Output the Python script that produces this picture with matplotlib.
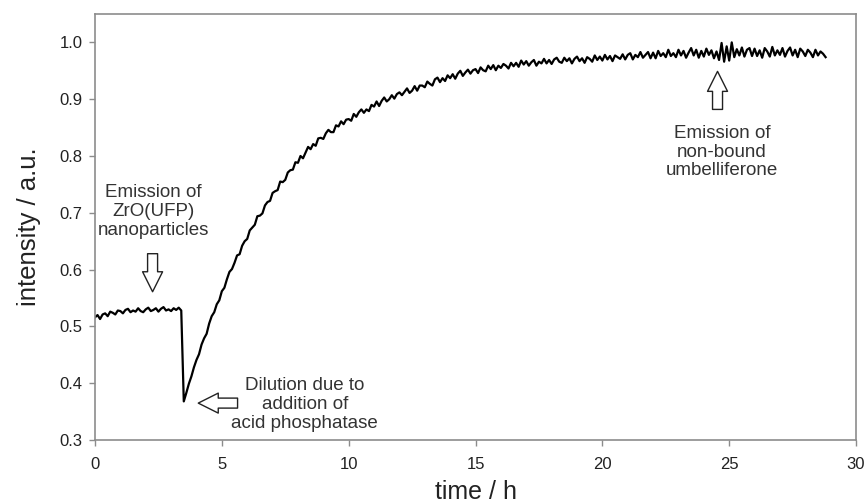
"""Emission intensity of ZrO(UFP) nanoparticles over time after phosphatase addition."""

import numpy as np
import matplotlib
matplotlib.use("Agg")
import matplotlib.pyplot as plt

# sampling interval of the recorded trace (hours)
sample_step_h = 0.1

# intensity, one row per hour (t = h.0 ... h.9)
intensity = [
    0.516, 0.520, 0.513, 0.521, 0.523, 0.518, 0.526, 0.524, 0.521, 0.528,
    0.527, 0.523, 0.529, 0.531, 0.525, 0.528, 0.526, 0.532, 0.527, 0.525,
    0.530, 0.533, 0.527, 0.529, 0.532, 0.526, 0.531, 0.534, 0.528, 0.530,
    0.527, 0.532, 0.529, 0.533, 0.528, 0.368, 0.383, 0.399, 0.412, 0.428,
    0.441, 0.451, 0.468, 0.479, 0.487, 0.505, 0.518, 0.525, 0.539, 0.546,
    0.562, 0.568, 0.583, 0.596, 0.601, 0.612, 0.625, 0.627, 0.642, 0.650,
    0.654, 0.669, 0.674, 0.679, 0.694, 0.695, 0.699, 0.713, 0.719, 0.721,
    0.735, 0.738, 0.740, 0.755, 0.754, 0.758, 0.771, 0.775, 0.776, 0.789,
    0.788, 0.800, 0.796, 0.806, 0.816, 0.812, 0.821, 0.818, 0.831, 0.832,
    0.830, 0.840, 0.846, 0.842, 0.842, 0.854, 0.852, 0.861, 0.856, 0.864,
    0.865, 0.862, 0.874, 0.869, 0.877, 0.882, 0.876, 0.882, 0.879, 0.890,
    0.887, 0.896, 0.888, 0.897, 0.903, 0.896, 0.900, 0.907, 0.901, 0.909,
    0.912, 0.907, 0.913, 0.919, 0.911, 0.915, 0.923, 0.915, 0.924, 0.924,
    0.921, 0.931, 0.927, 0.924, 0.935, 0.938, 0.930, 0.937, 0.932, 0.942,
    0.937, 0.944, 0.936, 0.945, 0.950, 0.941, 0.947, 0.952, 0.945, 0.951,
    0.953, 0.946, 0.956, 0.951, 0.949, 0.959, 0.953, 0.960, 0.951, 0.959,
    0.955, 0.962, 0.959, 0.954, 0.964, 0.958, 0.964, 0.957, 0.968, 0.961,
    0.967, 0.959, 0.965, 0.969, 0.959, 0.966, 0.963, 0.971, 0.963, 0.969,
    0.962, 0.970, 0.973, 0.966, 0.964, 0.973, 0.967, 0.972, 0.963, 0.971,
    0.975, 0.967, 0.972, 0.964, 0.974, 0.971, 0.966, 0.977, 0.969, 0.975,
    0.968, 0.978, 0.970, 0.976, 0.967, 0.977, 0.974, 0.971, 0.979, 0.970,
    0.978, 0.981, 0.970, 0.978, 0.974, 0.983, 0.973, 0.978, 0.983, 0.972,
    0.982, 0.972, 0.985, 0.976, 0.981, 0.974, 0.987, 0.976, 0.981, 0.974,
    0.987, 0.977, 0.985, 0.973, 0.982, 0.990, 0.977, 0.987, 0.973, 0.985,
    0.975, 0.989, 0.978, 0.986, 0.972, 0.984, 0.969, 0.999, 0.966, 0.993,
    0.968, 1.000, 0.974, 0.988, 0.977, 0.991, 0.975, 0.987, 0.990, 0.976,
    0.989, 0.976, 0.986, 0.973, 0.990, 0.984, 0.975, 0.992, 0.977, 0.986,
    0.978, 0.990, 0.975, 0.985, 0.991, 0.977, 0.987, 0.974, 0.989, 0.984,
    0.976, 0.987, 0.982, 0.974, 0.987, 0.977, 0.984, 0.980, 0.974,
]

x_ticks = [0, 5, 10, 15, 20, 25, 30]
y_ticks = [0.3, 0.4, 0.5, 0.6, 0.7, 0.8, 0.9, 1.0]

# annotations: (text, text position, arrow tail, arrow tip)
notes = [
    ("Emission of\nZrO(UFP)\nnanoparticles", (2.3, 0.702), (2.27, 0.628), (2.27, 0.561)),
    ("Dilution due to\naddition of\nacid phosphatase", (8.27, 0.363), (5.62, 0.365), (4.07, 0.365)),
    ("Emission of\nnon-bound\numbelliferone", (24.72, 0.807), (24.54, 0.882), (24.54, 0.949)),
]

plt.rcParams["font.family"] = ["Liberation Sans", "DejaVu Sans"]

time_h = np.arange(len(intensity)) * sample_step_h

fig = plt.figure(figsize=(8.66, 5.03), dpi=100)
ax = fig.add_axes([0.1097, 0.1252, 0.8788, 0.847])

ax.plot(time_h, intensity, color="black", lw=1.6)

ax.set_xlim(0, 30)
ax.set_ylim(0.3, 1.05)
ax.set_xticks(x_ticks)
ax.set_yticks(y_ticks)
ax.set_xticklabels([str(t) for t in x_ticks])
ax.set_yticklabels([f"{v:.1f}" for v in y_ticks])

for sp in ax.spines.values():
    sp.set_color("#8c8c8c")
    sp.set_linewidth(1.2)
ax.tick_params(direction="out", length=4, width=1, color="#8c8c8c",
               labelsize=12, labelcolor="#222222")
ax.tick_params(axis="x", pad=8)
ax.tick_params(axis="y", pad=5)

ax.set_xlabel("time / h", fontsize=18, color="#222222")
ax.set_ylabel("intensity / a.u.", fontsize=18.5, color="#222222")
ax.xaxis.set_label_coords(0.5, -0.094)
ax.yaxis.set_label_coords(-0.071, 0.5)

for text, pos, tail, tip in notes:
    ax.text(pos[0], pos[1], text, ha="center", va="center", fontsize=13.5,
            color="#333333", linespacing=1.15)
    ax.annotate("", xy=tip, xytext=tail,
                arrowprops=dict(arrowstyle="simple,head_length=0.9,head_width=0.9,tail_width=0.45",
                                fc="white", ec="#222222", lw=1.0,
                                shrinkA=0, shrinkB=0, mutation_scale=16))

fig.savefig("out.png", dpi=100)
plt.close(fig)
